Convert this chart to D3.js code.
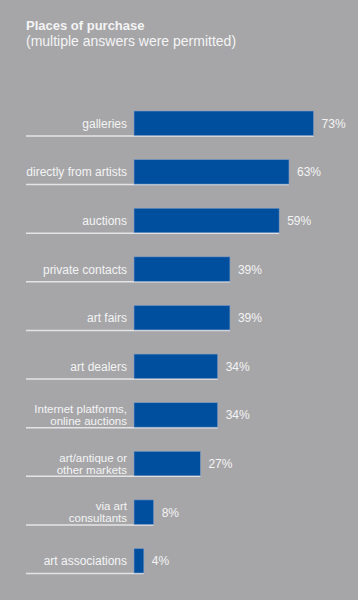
<!DOCTYPE html>
<html>
<head>
<meta charset="utf-8">
<script src="https://cdn.jsdelivr.net/npm/d3@7"></script>
<style>
  html, body { margin: 0; padding: 0; background: #a6a6a9; }
  svg { display: block; }
</style>
</head>
<body>
<svg id="chart" width="358" height="600"></svg>
<script>
const title = "Places of purchase";
const subtitle = "(multiple answers were permitted)";
const categories = [
  ["galleries"],
  ["directly from artists"],
  ["auctions"],
  ["private contacts"],
  ["art fairs"],
  ["art dealers"],
  ["Internet platforms,", "online auctions"],
  ["art/antique or", "other markets"],
  ["via art", "consultants"],
  ["art associations"]
];
const values = [73, 63, 59, 39, 39, 34, 34, 27, 8, 4];
const valueLabels = ["73%", "63%", "59%", "39%", "39%", "34%", "34%", "27%", "8%", "4%"];

const svg = d3.select("#chart");
const W = 358, H = 600;
svg.append("rect").attr("width", W).attr("height", H).attr("fill", "#a6a6a9");

const font = "'Liberation Sans', Arial, Helvetica, sans-serif";

svg.append("text").attr("x", 26).attr("y", 29.5)
  .attr("font-family", font).attr("font-size", 13).attr("font-weight", "bold")
  .attr("fill", "#f4f4f4").text(title);
svg.append("text").attr("x", 26).attr("y", 46)
  .attr("font-family", font).attr("font-size", 14)
  .attr("fill", "#f4f4f4").text(subtitle);

const keys = categories.map(c => c.join(" "));
const x = d3.scaleLinear().domain([0, 100]).range([134, 380]);
const y = d3.scaleBand().domain(keys).range([111, 573]).paddingInner(0.496).paddingOuter(0);

const rows = svg.selectAll("g.row").data(values.map((v, i) => ({v, i, key: keys[i], lines: categories[i], label: valueLabels[i]})))
  .enter().append("g").attr("class", "row");

// underline
rows.append("line")
  .attr("x1", 26)
  .attr("x2", d => x(d.v))
  .attr("y1", d => y(d.key) + y.bandwidth() + 0.5)
  .attr("y2", d => y(d.key) + y.bandwidth() + 0.5)
  .attr("stroke", "#e4e4e6").attr("stroke-width", 1.5);

// bars
rows.append("rect")
  .attr("x", x(0))
  .attr("y", d => y(d.key))
  .attr("width", d => x(d.v) - x(0))
  .attr("height", y.bandwidth())
  .attr("fill", "#004f9f")
  .attr("stroke", "#7f9cc4").attr("stroke-width", 0.6);

// category labels
rows.each(function(d) {
  const g = d3.select(this);
  const cy = y(d.key) + y.bandwidth() / 2;
  if (d.lines.length === 1) {
    g.append("text")
      .attr("font-family", font).attr("font-size", 12)
      .attr("fill", "#f4f4f4").attr("text-anchor", "end")
      .attr("x", 127).attr("y", cy + 4.5).text(d.lines[0]);
  } else {
    d.lines.forEach((ln, k) => {
      g.append("text")
        .attr("font-family", font).attr("font-size", 11.5)
        .attr("fill", "#f4f4f4").attr("text-anchor", "end")
        .attr("x", 127).attr("y", cy - 2 + k * 12).text(ln);
    });
  }
});

// value labels
rows.append("text")
  .attr("x", d => x(d.v) + 8)
  .attr("y", d => y(d.key) + y.bandwidth() / 2 + 4.5)
  .attr("font-family", font).attr("font-size", 12)
  .attr("fill", "#f4f4f4")
  .text(d => d.label);
</script>
</body>
</html>
